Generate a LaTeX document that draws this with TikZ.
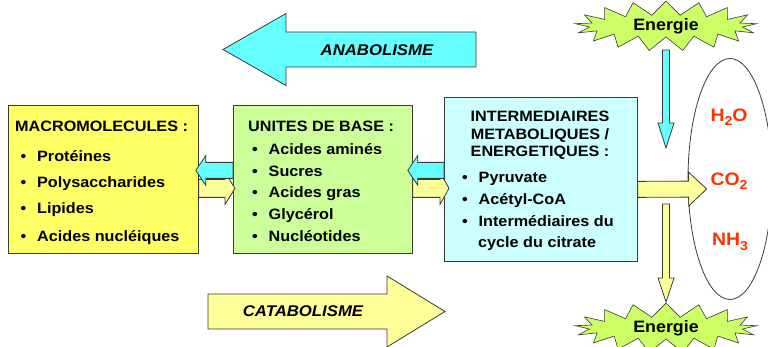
\documentclass[tikz,border=0pt]{standalone}
\usepackage{fontspec}
\setmainfont{Liberation Sans}[FakeStretch=1.08]
\usetikzlibrary{calc,shapes.symbols,shapes.geometric}

\definecolor{jaune}{HTML}{FFFF66}
\definecolor{jaunepale}{HTML}{FFFF99}
\definecolor{vert}{HTML}{CCFF99}
\definecolor{cyanpale}{HTML}{CCFFFF}
\definecolor{cyanvif}{HTML}{66FFFF}
\definecolor{lime}{HTML}{CCFF66}
\definecolor{rouge}{HTML}{FF3300}
\definecolor{bord}{HTML}{3A3A3A}

\newcommand{\police}{\bfseries\fontsize{15}{18}\selectfont}
\newcommand{\puce}{\makebox[16.5pt][l]{•}}
\newcommand{\indice}[1]{\raisebox{-4.5pt}{\fontsize{13}{13}\selectfont #1}}

% grosse fleche : couleur, depart, pointe, demi-corps, demi-tete, longueur tete
\newcommand{\grossefleche}[6]{%
    \coordinate (fa) at (#2);
    \coordinate (fb) at (#3);
    \coordinate (fbase) at ($(fb)!#6!(fa)$);
    \filldraw[fill=#1, draw=bord, line width=0.8pt]
        ($(fa)!#4!90:(fb)$) -- ($(fbase)!#4!-90:(fa)$) -- ($(fbase)!#5!-90:(fa)$) -- (fb)
        -- ($(fbase)!#5!90:(fa)$) -- ($(fbase)!#4!90:(fa)$) -- ($(fa)!#4!-90:(fb)$) -- cycle;
}

\tikzset{
    boite/.style={draw=bord, line width=0.8pt, rectangle, anchor=north west, inner sep=0pt},
    ligne/.style={anchor=base west, font=\police, inner sep=0pt},
    ligneC/.style={anchor=base, font=\police, inner sep=0pt},
    eclat/.style={starburst, starburst points=17, starburst point height=14pt, random starburst=0,
        fill=lime, draw=bord, line width=0.6pt, minimum width=182pt, minimum height=42pt,
        inner sep=0pt, font=\bfseries\fontsize{16.5}{20}\selectfont},
    chimie/.style={text=rouge, font=\bfseries\fontsize{18}{20}\selectfont, inner sep=0pt},
    processus/.style={font=\bfseries\itshape\fontsize{15.5}{18}\selectfont, inner sep=0pt}
}

\begin{document}
\begin{tikzpicture}[x=1pt, y=-1pt]
    \useasboundingbox (0,0) rectangle (768,347);

    %Processus
        \coordinate (anaQ) at (476,49.5);
        \coordinate (anaP) at (223,49.5);
        \grossefleche{cyanvif}{anaQ}{anaP}{17.5pt}{36pt}{63pt}
        \node[processus] (ana) at (377,50) {ANABOLISME};

        \coordinate (catQ) at (208,311.5);
        \coordinate (catP) at (445,311.5);
        \grossefleche{jaunepale}{catQ}{catP}{17.5pt}{35.5pt}{58pt}
        \node[processus] (cat) at (303,311) {CATABOLISME};

    %Boites
        \node[boite, fill=jaune, minimum width=190pt, minimum height=148pt] (macro) at (8,105) {};
        \node[boite, fill=vert, minimum width=179pt, minimum height=148pt] (unites) at (233,105) {};
        \node[boite, fill=cyanpale, minimum width=193pt, minimum height=164pt] (inter) at (444,97) {};

        \node[ligne] (m0) at (15,132) {MACROMOLECULES :};
        \node[ligne] (m1) at (20.5,162) {\puce Protéines};
        \node[ligne] (m2) at (20.5,188) {\puce Polysaccharides};
        \node[ligne] (m3) at (20.5,214) {\puce Lipides};
        \node[ligne] (m4) at (20.5,242) {\puce Acides nucléiques};

        \node[ligne] (u0) at (248,132) {UNITES DE BASE :};
        \node[ligne] (u1) at (252,155) {\puce Acides aminés};
        \node[ligne] (u2) at (252,176.5) {\puce Sucres};
        \node[ligne] (u3) at (252,198) {\puce Acides gras};
        \node[ligne] (u4) at (252,220) {\puce Glycérol};
        \node[ligne] (u5) at (252,242) {\puce Nucléotides};

        \node[ligneC] (i0) at (540,122) {INTERMEDIAIRES};
        \node[ligneC] (i1) at (540,139.5) {METABOLIQUES /};
        \node[ligneC] (i2) at (540,157) {ENERGETIQUES :};
        \node[ligne] (i3) at (462,183) {\puce Pyruvate};
        \node[ligne] (i4) at (462,205) {\puce Acétyl-CoA};
        \node[ligne] (i5) at (462,227) {\puce Intermédiaires du};
        \node[ligne] (i6) at (478,248) {cycle du citrate};

    %Produits
        \node[draw=bord, line width=0.8pt, ellipse, minimum width=84pt, minimum height=241pt] (dechets) at (730,179) {};
        \node[chimie] (h2o) at (729,117) {H\indice{2}O};
        \node[chimie] (co2) at (729,181) {CO\indice{2}};
        \node[chimie] (nh3) at (730,242) {NH\indice{3}};

        \node[eclat] (eHaut) at (666,26) {Energie};
        \node[eclat] (eBas) at (666,328) {Energie};

    %Fleches
        \grossefleche{jaunepale}{[yshift=-9pt]macro.east}{[xshift=2pt,yshift=-9pt]unites.west}{9pt}{16pt}{10pt}
        \grossefleche{cyanvif}{[yshift=9pt]unites.west}{[xshift=-3pt,yshift=9pt]macro.east}{8pt}{15pt}{10pt}
        \grossefleche{jaunepale}{[yshift=-9pt]unites.east}{[xshift=5pt,yshift=-9pt]inter.west}{9pt}{16pt}{9pt}
        \grossefleche{cyanvif}{[yshift=9pt]inter.west}{[xshift=-5pt,yshift=9pt]unites.east}{8pt}{15pt}{10pt}
        \grossefleche{jaunepale}{[yshift=-10pt]inter.east}{[xshift=19pt,yshift=-10pt]dechets.west}{8pt}{17pt}{18pt}
        \grossefleche{cyanvif}{[yshift=-24pt]eHaut.center}{[yshift=-122pt]eHaut.center}{3.5pt}{8pt}{25pt}
        \grossefleche{jaunepale}{[yshift=124pt]eBas.center}{[yshift=26pt]eBas.center}{3.5pt}{8pt}{24pt}

        %
\end{tikzpicture}
\end{document}
